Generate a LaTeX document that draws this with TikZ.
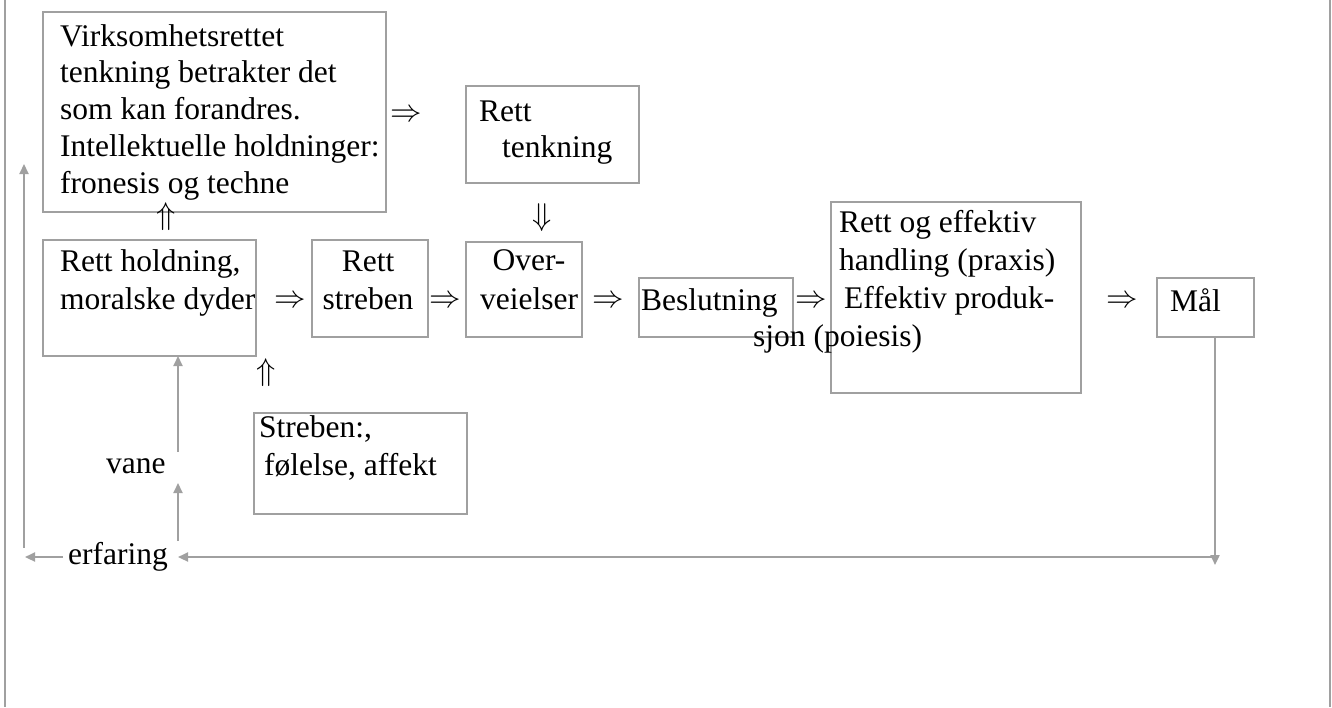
\RequirePackage{fix-cm}
\documentclass[tikz,border=0pt]{standalone}
\usepackage{fontspec}
\setmainfont{Liberation Serif}
\usetikzlibrary{arrows.meta}
\definecolor{ln}{RGB}{160,160,160}
\newcommand{\ml}[2][l]{\begin{tabular}[t]{@{}#1@{}}#2\end{tabular}}
\begin{document}
\begin{tikzpicture}[x=1pt,y=-1pt,
  box/.style={draw=ln, line width=1.8pt, inner sep=0pt, outer sep=0pt, anchor=north west},
  txt/.style={inner sep=0pt, anchor=base west, font=\fontsize{31.5}{37}\selectfont},
  sym/.style={inner sep=0pt, anchor=center, font=\fontsize{31.5}{37}\selectfont},
  conn/.style={draw=ln, line width=2.2pt},
  tip/.style={-{Triangle[length=10pt,width=9pt]}}
]
\useasboundingbox (0,0) rectangle (1332,707);
% page side rules
\draw[ln, line width=2pt] (5,0) -- (5,707);
\draw[ln, line width=2pt] (1330,0) -- (1330,707);
% boxes
\node[box, minimum width=343pt, minimum height=200pt] (A) at (43,12) {};
\node[box, minimum width=173pt, minimum height=97pt] (B) at (466,86) {};
\node[box, minimum width=213pt, minimum height=116pt] (C) at (43,240) {};
\node[box, minimum width=116pt, minimum height=97pt] (D) at (312,240) {};
\node[box, minimum width=116pt, minimum height=95pt] (E) at (466,242) {};
\node[box, minimum width=154pt, minimum height=59pt] (F) at (639,278) {};
\node[box, minimum width=250pt, minimum height=191pt] (G) at (831,202) {};
\node[box, minimum width=97pt, minimum height=59pt] (H) at (1157,278) {};
\node[box, minimum width=213pt, minimum height=101pt] (I) at (254,413) {};
% texts
\node[txt, font=\fontsize{31.5}{36.8}\selectfont] (tA) at (60,46) {\ml{Virksomhetsrettet\\tenkning betrakter det\\som kan forandres.\\Intellektuelle holdninger:\\fronesis og techne}};
\node[txt, font=\fontsize{31.5}{36}\selectfont] (tB) at (479,121) {\ml{Rett\\\hspace*{23pt}tenkning}};
\node[txt, font=\fontsize{31.5}{38}\selectfont] (tC) at (60,271) {\ml{Rett holdning,\\moralske dyder}};
\node[txt, anchor=base, font=\fontsize{31.5}{38}\selectfont] (tD) at (368,271) {\ml[c]{Rett\\streben}};
\node[txt, anchor=base, font=\fontsize{31.5}{39}\selectfont] (tE) at (529,270) {\ml[c]{Over-\\veielser}};
\node[txt] (tF) at (641,310) {Beslutning};
\node[txt, font=\fontsize{31.5}{38}\selectfont] (tG) at (839,232) {\ml{Rett og effektiv\\handling (praxis)\\\hspace*{5pt}Effektiv produk-\\\hspace*{-86pt}sjon (poiesis)}};
\node[txt] (tH) at (1170,311) {Mål};
\node[txt, font=\fontsize{31.5}{38}\selectfont] (tI) at (259,437) {\ml{Streben:,\\\hspace*{5pt}følelse, affekt}};
\node[txt] (vane) at (106,473) {vane};
\node[txt] (erf) at (68,564) {erfaring};
% symbols
\node[sym] (s1) at (406,116) {$\Rightarrow$};
\node[sym] (s2) at (290,302) {$\Rightarrow$};
\node[sym] (s3) at (445,302) {$\Rightarrow$};
\node[sym] (s4) at (608,302) {$\Rightarrow$};
\node[sym] (s5) at (811,302) {$\Rightarrow$};
\node[sym] (s6) at (1122,302) {$\Rightarrow$};
\node[sym] (s7) at (542,218) {$\Downarrow$};
\node[sym] (s8) at (166,217) {$\Uparrow$};
\node[sym] (s9) at (266,373) {$\Uparrow$};
% connectors
\coordinate (vb) at (178,452);
\draw[conn,tip] (vb) -- (vb |- C.south);
\coordinate (eb) at (178,541);
\coordinate (et) at (178,483);
\draw[conn,tip] (eb) -- (et);
\coordinate (el) at (63,557);
\coordinate (ell) at (25,557);
\draw[conn,tip] (el) -- (ell);
\coordinate (lb) at (24,548);
\coordinate (lt) at (24,164);
\draw[conn,tip] (lb) -- (lt);
\coordinate (mx) at (1215,565);
\draw[conn,tip] (H.south -| mx) -- (mx);
\coordinate (hr) at (1215,557);
\coordinate (hl) at (178,557);
\draw[conn,tip] (hr) -- (hl);
\end{tikzpicture}
\end{document}
